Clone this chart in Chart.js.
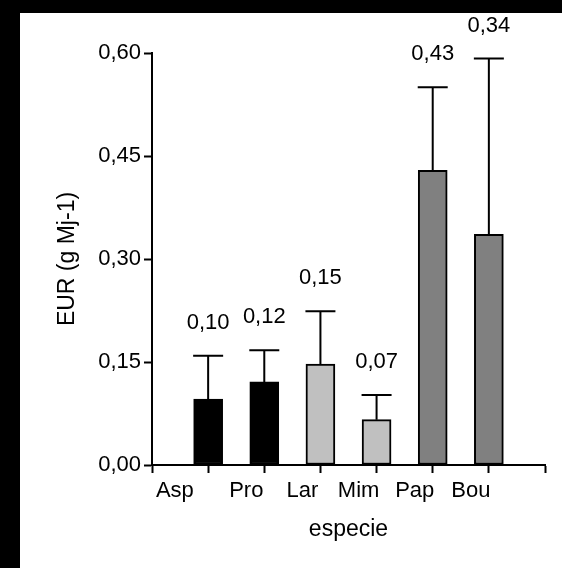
<!DOCTYPE html>
<html>
<head>
<meta charset="utf-8">
<script src="https://cdn.jsdelivr.net/npm/chart.js@4"></script>
<style>
  html, body { margin: 0; padding: 0; background: #000; }
  #wrap { position: absolute; left: 20px; top: 13px; width: 542px; height: 555px; background: #fff; }
</style>
</head>
<body>
<div id="wrap"><canvas id="eur"></canvas></div>
<script>
// EUR per species, mean and SD (upper whisker only)
const especies = ['Asp', 'Pro', 'Lar', 'Mim', 'Pap', 'Bou'];
const eur = [0.096, 0.121, 0.147, 0.066, 0.429, 0.336];
const sd = [0.063, 0.046, 0.077, 0.036, 0.121, 0.256];
const colores = ['#000000', '#000000', '#c0c0c0', '#c0c0c0', '#808080', '#808080'];
const yTicks = [0, 0.15, 0.30, 0.45, 0.60];

const fmt = v => v.toFixed(2).replace('.', ',');

// empty slot at each end so the bars sit on the inner ticks
const labels = [''].concat(especies, ['']);
const pad = arr => [null].concat(arr, [null]);

const FONT = 'Arial, "Liberation Sans", sans-serif';
Chart.defaults.font.family = FONT;
Chart.defaults.font.size = 22;
Chart.defaults.color = '#000';

const errorBars = {
    id: 'errorBars',
    afterDatasetsDraw(chart) {
        const ctx = chart.ctx;
        const y = chart.scales.y;
        const meta = chart.getDatasetMeta(0);
        ctx.save();
        ctx.strokeStyle = '#000';
        ctx.lineWidth = 2;
        ctx.fillStyle = '#000';
        ctx.textAlign = 'center';
        ctx.textBaseline = 'middle';
        ctx.font = '22px ' + FONT;
        meta.data.forEach((bar, i) => {
            const k = i - 1;
            if (k < 0 || k >= eur.length) return;
            const top = y.getPixelForValue(eur[k] + sd[k]);
            ctx.beginPath();
            ctx.moveTo(bar.x, bar.y);
            ctx.lineTo(bar.x, top);
            ctx.moveTo(bar.x - 15, top);
            ctx.lineTo(bar.x + 15, top);
            ctx.stroke();
            ctx.fillText(fmt(eur[k]), bar.x, top - 33);
        });
        ctx.restore();
    }
};

const ctx = document.getElementById('eur').getContext('2d');
const chart = new Chart(ctx, {
    type: 'bar',
    data: {
        labels: labels,
        datasets: [{
            data: pad(eur),
            backgroundColor: pad(colores),
            borderColor: '#000',
            borderWidth: 2,
            borderSkipped: false,
            barThickness: 29
        }]
    },
    options: {
        responsive: true,
        maintainAspectRatio: false,
        animation: false,
        layout: { padding: { top: 40, right: 17, bottom: 0, left: 0 } },
        plugins: {
            legend: { display: false },
            tooltip: { enabled: false }
        },
        scales: {
            x: {
                offset: false,
                grid: {
                    offset: false,
                    drawOnChartArea: false,
                    tickLength: 8,
                    tickWidth: 2,
                    tickColor: '#000'
                },
                border: { color: '#000', width: 2 },
                ticks: {
                    autoSkip: false,
                    maxRotation: 0,
                    padding: 5,
                    labelOffset: -18,
                    // the first label sits further left than the rest
                    callback: (v, i) => i === 1 ? labels[i] + '     ' : labels[i]
                },
                title: {
                    display: true,
                    text: 'especie',
                    font: { size: 23 },
                    padding: { top: 0, bottom: 25 }
                },
                afterFit: s => { s.height = 103; }
            },
            y: {
                min: 0,
                max: 0.6,
                afterBuildTicks: s => { s.ticks = yTicks.map(v => ({ value: v })); },
                grid: {
                    drawOnChartArea: false,
                    tickLength: 8,
                    tickWidth: 2,
                    tickColor: '#000'
                },
                border: { color: '#000', width: 2 },
                ticks: {
                    padding: 3,
                    callback: v => fmt(v)
                },
                title: {
                    display: true,
                    text: 'EUR (g Mj-1)',
                    font: { size: 23 },
                    padding: { top: 34, bottom: 0 }
                },
                afterFit: s => { s.width = 132; }
            }
        }
    },
    plugins: [errorBars]
});
</script>
</body>
</html>
